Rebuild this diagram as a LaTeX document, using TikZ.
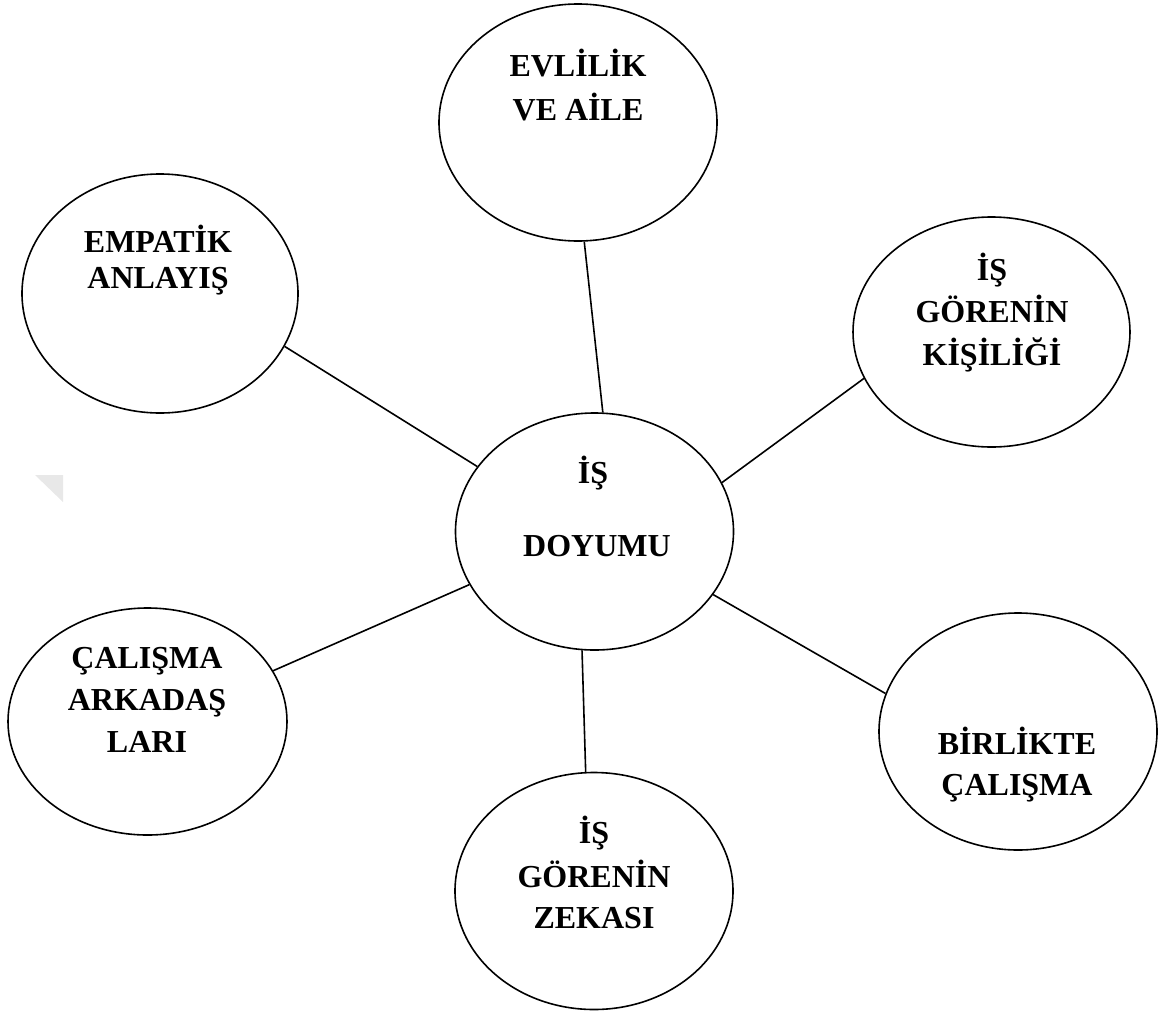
\documentclass[tikz,border=0pt]{standalone}
\usepackage{fontspec}
\setmainfont{Liberation Serif}
\usetikzlibrary{shapes.geometric}
\begin{document}
\begin{tikzpicture}[x=1pt,y=-1pt,
  bub/.style={draw=black,line width=1.6pt,ellipse,inner sep=0pt,minimum width=278pt,minimum height=237pt},
  lab/.style={anchor=base,inner sep=0pt,font=\fontsize{32}{38}\selectfont\bfseries},
  conn/.style={draw=black,line width=1.6pt}]
\useasboundingbox (0,0) rectangle (1161,1015);
\fill[black!9] (35,475) -- (63,475) -- (63,502) -- cycle;
% ellipses
\node[bub] (evl) at (578,122.5) {};
\node[bub,minimum width=276pt,minimum height=239pt] (emp) at (160,293.5) {};
\node[bub,minimum width=277pt,minimum height=230pt] (kis) at (991.5,332) {};
\node[bub] (doy) at (594.5,531.5) {};
\node[bub,minimum width=279pt,minimum height=227pt] (cal) at (147.5,721.5) {};
\node[bub] (bir) at (1018,731.5) {};
\node[bub] (zek) at (594,891) {};
% texts
\node[lab] (evlA) at (578,76) {EVLİLİK};
\node[lab] (evlB) at (578,120) {VE AİLE};
\node[lab] (empA) at (158,252) {EMPATİK};
\node[lab] (empB) at (158,288) {ANLAYIŞ};
\node[lab] (kisA) at (992,280) {İŞ};
\node[lab] (kisB) at (992,322) {GÖRENİN};
\node[lab] (kisC) at (992,365) {KİŞİLİĞİ};
\node[lab] (doyA) at (593,483) {İŞ};
\node[lab] (doyB) at (597,556) {DOYUMU};
\node[lab] (calA) at (147,668) {ÇALIŞMA};
\node[lab] (calB) at (147,710) {ARKADAŞ};
\node[lab] (calC) at (147,752) {LARI};
\node[lab] (birA) at (1017,754) {BİRLİKTE};
\node[lab] (birB) at (1017,795) {ÇALIŞMA};
\node[lab] (zekA) at (594,843) {İŞ};
\node[lab] (zekB) at (594,887) {GÖRENİN};
\node[lab] (zekC) at (594,928) {ZEKASI};
% connectors
\draw[conn] (evl.-87.1) -- (doy.86.4);
\draw[conn] (emp.-23.4) -- (doy.151.9);
\draw[conn] (kis.200.9) -- (doy.21.0);
\draw[conn] (bir.164.7) -- (doy.-28.1);
\draw[conn] (cal.22.8) -- (doy.203.6);
\draw[conn] (zek.94.8) -- (doy.264.9);
\end{tikzpicture}
\end{document}
